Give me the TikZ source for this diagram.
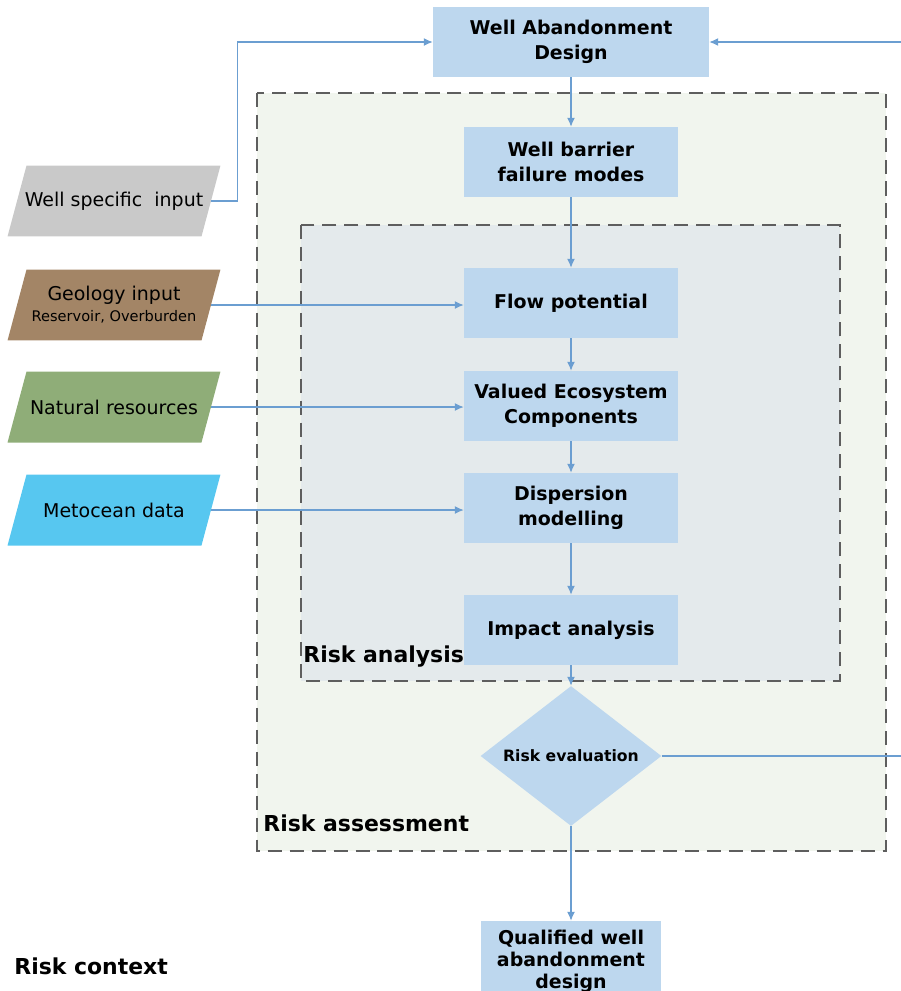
\documentclass[tikz,border=0pt]{standalone}
\usepackage{fontspec}
\setmainfont{DejaVu Sans}
\usepackage{tikz}
\usetikzlibrary{arrows.meta}
\usetikzlibrary{shapes.geometric}
\usetikzlibrary{positioning}
\definecolor{mbox}{rgb}{0.741, 0.843, 0.933}
\definecolor{marrow}{rgb}{0.42, 0.62, 0.82}
\definecolor{massess}{rgb}{0.945, 0.961, 0.933}
\definecolor{manalysis}{rgb}{0.894, 0.918, 0.925}
\definecolor{mdash}{rgb}{0.37, 0.37, 0.37}
\definecolor{mgrey}{rgb}{0.79, 0.79, 0.79}
\definecolor{mbrown}{rgb}{0.64, 0.52, 0.40}
\definecolor{mgreen}{rgb}{0.56, 0.68, 0.47}
\definecolor{mcyan}{rgb}{0.34, 0.78, 0.94}
\tikzset{stepbox/.style = {fill = mbox, draw = none, minimum width = 4.28cm, minimum height = 1.4cm,
    align = center, font = \fontsize{10.8}{14.2}\selectfont\bfseries, inner sep = 1pt}}
\tikzset{inbox/.style = {draw = none, minimum width = 4.26cm, minimum height = 1.42cm,
    align = center, font = \fontsize{10.8}{13}\selectfont, inner sep = 1pt,
    path picture = {\fill [#1] (path picture bounding box.south west)
      -- ([xshift = 0.38cm]path picture bounding box.north west)
      -- (path picture bounding box.north east)
      -- ([xshift = -0.38cm]path picture bounding box.south east) -- cycle;}}}
\tikzset{dashbox/.style = {draw = mdash, line width = 0.9pt, dash pattern = on 8pt off 4.5pt}}
\tikzset{flow/.style = {draw = marrow, line width = 0.6pt, -{Latex[length = 5pt, width = 4.5pt]}}}
\tikzset{boxlabel/.style = {font = \fontsize{12.5}{14}\selectfont\bfseries, inner sep = 0}}

\begin{document}
\begin{tikzpicture}[x = 0.02cm, y = -0.02cm]
    \useasboundingbox (0, 0) rectangle (900, 991);

    \draw [dashbox, fill = massess] (257, 93) rectangle (886, 851);
    \draw [dashbox, fill = manalysis] (301, 225) rectangle (840, 681);

    \node [stepbox, minimum width = 5.52cm] (design) at (571, 42) {Well Abandonment\\Design};
    \node [stepbox] (barrier) at (571, 162) {Well barrier\\failure modes};
    \node [stepbox] (flowpot) at (571, 303) {Flow potential};
    \node [stepbox] (vec) at (571, 406) {Valued Ecosystem\\Components};
    \node [stepbox] (disp) at (571, 508) {Dispersion\\modelling};
    \node [stepbox] (impact) at (571, 630) {Impact analysis};
    \node [diamond, fill = mbox, minimum width = 3.62cm, minimum height = 2.8cm, inner sep = -10pt,
      font = \fontsize{8.9}{10}\selectfont\bfseries] (evaluation) at (571, 756) {Risk evaluation};
    \node [stepbox, minimum width = 3.62cm, minimum height = 1.6cm,
      font = \fontsize{10.8}{12.5}\selectfont\bfseries] (qualified) at (571, 961)
      {Qualified well\\abandonment\\design};

    \node [inbox = mgrey] (wellinput) at (114, 201) {Well specific\ \ input};
    \node [inbox = mbrown] (geology) at (114, 305)
      {Geology input\\[-1pt]{\fontsize{8.3}{10}\selectfont Reservoir, Overburden}};
    \node [inbox = mgreen] (natural) at (114, 407) {Natural resources};
    \node [inbox = mcyan] (metocean) at (114, 510) {Metocean data};

    \node [boxlabel, anchor = south west] (analysislbl) at (303, 668) {Risk analysis};
    \node [boxlabel, anchor = south west] (assesslbl) at (263, 832) {Risk assessment};
    \node [boxlabel, anchor = south west] (contextlbl) at (14, 975) {Risk context};

    \coordinate (feedin) at (906, 42);
    \coordinate (feedout) at (906, 756);

    \draw [flow] ([xshift = -0.19cm]wellinput.east) -- ++(0.53cm, 0) |- (design.west);
    \draw [flow] (evaluation.east) -- (feedout) -- (feedin) -- (design.east);
    \draw [flow] (design) -- (barrier);
    \draw [flow] (barrier) -- (flowpot);
    \draw [flow] (flowpot) -- (vec);
    \draw [flow] (vec) -- (disp);
    \draw [flow] (disp) -- (impact);
    \draw [flow] (impact) -- (evaluation);
    \draw [flow] (evaluation) -- (qualified);
    \draw [flow] ([xshift = -0.19cm]geology.east) -- (geology.east -| flowpot.west);
    \draw [flow] ([xshift = -0.19cm]natural.east) -- (natural.east -| vec.west);
    \draw [flow] ([xshift = -0.19cm]metocean.east) -- (metocean.east -| disp.west);
  \end{tikzpicture}
\end{document}
